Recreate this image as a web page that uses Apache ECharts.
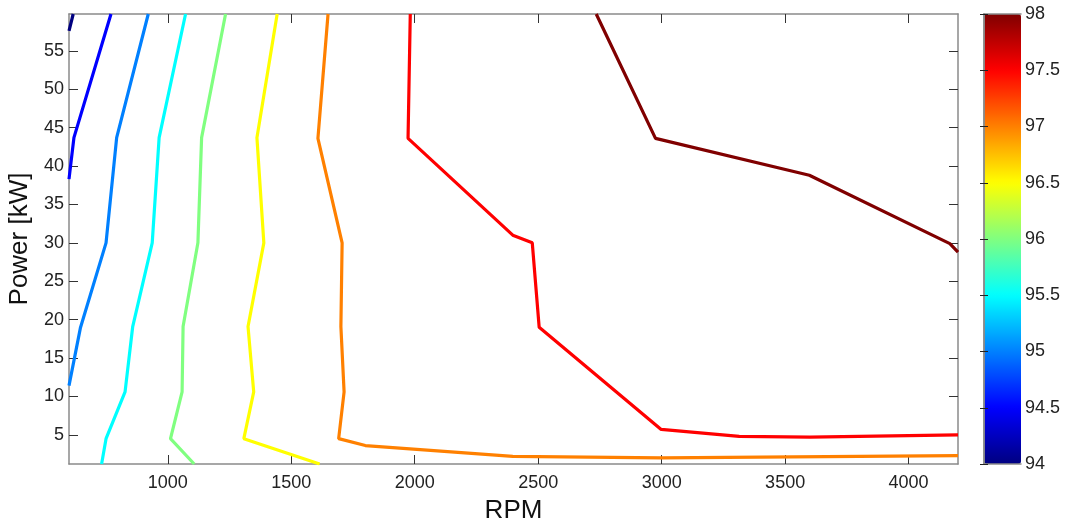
<!DOCTYPE html>
<html>
<head>
<meta charset="utf-8">
<script src="https://cdn.jsdelivr.net/npm/echarts@6/dist/echarts.min.js"></script>
<style>
html,body{margin:0;padding:0;background:#fff;}
#c{width:1067px;height:524px;}
</style>
</head>
<body>
<div id="c"></div>
<script>
// ---- data (RPM, Power kW) for each efficiency contour level ----
var levels = [94, 94.5, 95, 95.5, 96, 96.5, 97, 97.5, 98];
var levelColors = ['#000080', '#0000FF', '#0080FF', '#00FFFF', '#80FF80', '#FFFF00', '#FF8000', '#FF0000', '#800000'];

var c940 = [[600, 57.6], [617, 59.8]];
var c945 = [[770, 59.8], [620, 43.7], [600, 38.3]];
var c950 = [[921, 59.8], [793, 43.7], [750, 30.0], [646, 18.9], [600, 11.4]];
var c955 = [[1072, 59.8], [965, 43.7], [937, 30.0], [858, 19.1], [827, 10.6], [750, 4.5], [732, 1.2]];
var c960 = [[1234, 59.8], [1137, 43.7], [1122, 30.0], [1062, 19.1], [1058, 10.6], [1011, 4.5], [1107, 1.2]];
var c965 = [[1443, 59.8], [1361, 43.7], [1389, 30.0], [1325, 19.1], [1348, 10.6], [1308, 4.5], [1615, 1.2]];
var c970 = [[1649, 59.8], [1608, 43.6], [1706, 30.0], [1701, 19.1], [1714, 10.6], [1692, 4.5], [1800, 3.6], [2397, 2.2], [3000, 2.0], [4200, 2.3]];
var c975 = [[1982, 59.8], [1973, 43.6], [2397, 31.0], [2476, 30.0], [2504, 19.0], [2998, 5.7], [3314, 4.8], [3600, 4.7], [4200, 5.0]];
var c980 = [[2735, 59.8], [2975, 43.6], [3598, 38.8], [4167, 29.9], [4200, 28.8]];
var contours = [c940, c945, c950, c955, c960, c965, c970, c975, c980];

var xTicks = [1000, 1500, 2000, 2500, 3000, 3500, 4000];
var yTicks = [5, 10, 15, 20, 25, 30, 35, 40, 45, 50, 55];
var xRange = [600, 4200];
var yRange = [1.2, 59.8];
var cbRange = [94, 98];
var cbStep = 0.5;

var FONT = 'Liberation Sans, Arial, sans-serif';
var AXIS_GRAY = '#8a8a8a';
var TICK_DARK = '#333';
function plain(v) { return String(v); }

function mainX(pos, showLabels) {
  return {
    type: 'value', gridIndex: 0, position: pos, min: xRange[0], max: xRange[1],
    name: showLabels ? 'RPM' : '', nameLocation: 'middle', nameGap: 34,
    nameTextStyle: { fontFamily: FONT, fontSize: 26, color: '#111' },
    axisLine: { show: true, onZero: false, lineStyle: { color: AXIS_GRAY, width: 1.5 } },
    axisTick: { show: true, inside: true, length: 9, customValues: xTicks, lineStyle: { color: TICK_DARK, width: 1 } },
    axisLabel: { show: showLabels, customValues: xTicks, formatter: plain, margin: 10, fontFamily: FONT, fontSize: 18, color: '#222' },
    splitLine: { show: false }
  };
}
function mainY(pos, showLabels) {
  return {
    type: 'value', gridIndex: 0, position: pos, min: yRange[0], max: yRange[1],
    name: showLabels ? 'Power [kW]' : '', nameLocation: 'middle', nameGap: 31,
    nameTextStyle: { fontFamily: FONT, fontSize: 26, color: '#111' },
    axisLine: { show: true, onZero: false, lineStyle: { color: AXIS_GRAY, width: 1.5 } },
    axisTick: { show: true, inside: true, length: 9, customValues: yTicks, lineStyle: { color: TICK_DARK, width: 1 } },
    axisLabel: { show: showLabels, customValues: yTicks, formatter: plain, margin: 5, padding: [4, 0, 0, 0], fontFamily: FONT, fontSize: 18, color: '#222' },
    splitLine: { show: false }
  };
}
function cbY(pos, showLabels) {
  return {
    type: 'value', gridIndex: 1, position: pos, min: cbRange[0], max: cbRange[1], interval: cbStep, z: 10,
    axisLine: { show: true, lineStyle: { color: AXIS_GRAY, width: 1.5 } },
    axisTick: { show: true, inside: true, length: 4, lineStyle: { color: '#222', width: 1 } },
    axisLabel: { show: showLabels, formatter: plain, margin: 4, padding: [4, 0, 0, 0], fontFamily: FONT, fontSize: 18, color: '#222' },
    splitLine: { show: false }
  };
}
function cbX(pos) {
  return {
    type: 'value', gridIndex: 1, position: pos, min: 0, max: 1, z: 10,
    axisLine: { show: true, onZero: false, lineStyle: { color: AXIS_GRAY, width: 1.5 } },
    axisTick: { show: false }, axisLabel: { show: false }, splitLine: { show: false }
  };
}

var series = contours.map(function (pts, i) {
  return {
    name: String(levels[i]), type: 'line', xAxisIndex: 0, yAxisIndex: 0,
    data: pts, symbol: 'none', clip: true, smooth: false, silent: true,
    lineStyle: { color: levelColors[i], width: 3.2 }, itemStyle: { color: levelColors[i] },
    z: 3
  };
});
// placeholder series the colour bar is tied to
series.push({ type: 'scatter', xAxisIndex: 2, yAxisIndex: 2, data: [], silent: true });

var chart = echarts.init(document.getElementById('c'), null, { renderer: 'canvas' });
chart.setOption({
  animation: false,
  backgroundColor: '#fff',
  textStyle: { fontFamily: FONT },
  grid: [
    { left: 69, top: 14, width: 889, height: 450, containLabel: false, outerBoundsMode: 'none' },
    { left: 984, top: 14, width: 37, height: 450, containLabel: false, outerBoundsMode: 'none' }
  ],
  xAxis: [mainX('bottom', true), mainX('top', false), cbX('bottom'), cbX('top')],
  yAxis: [mainY('left', true), mainY('right', false), cbY('right', true), cbY('left', false)],
  visualMap: [{
    type: 'continuous', min: cbRange[0], max: cbRange[1], seriesIndex: contours.length,
    orient: 'vertical', left: 984, top: 14, itemWidth: 37, itemHeight: 450, padding: 0,
    calculable: false, realtime: false, hoverLink: false,
    inRange: { color: levelColors }, z: 2
  }],
  series: series
});
</script>
</body>
</html>
